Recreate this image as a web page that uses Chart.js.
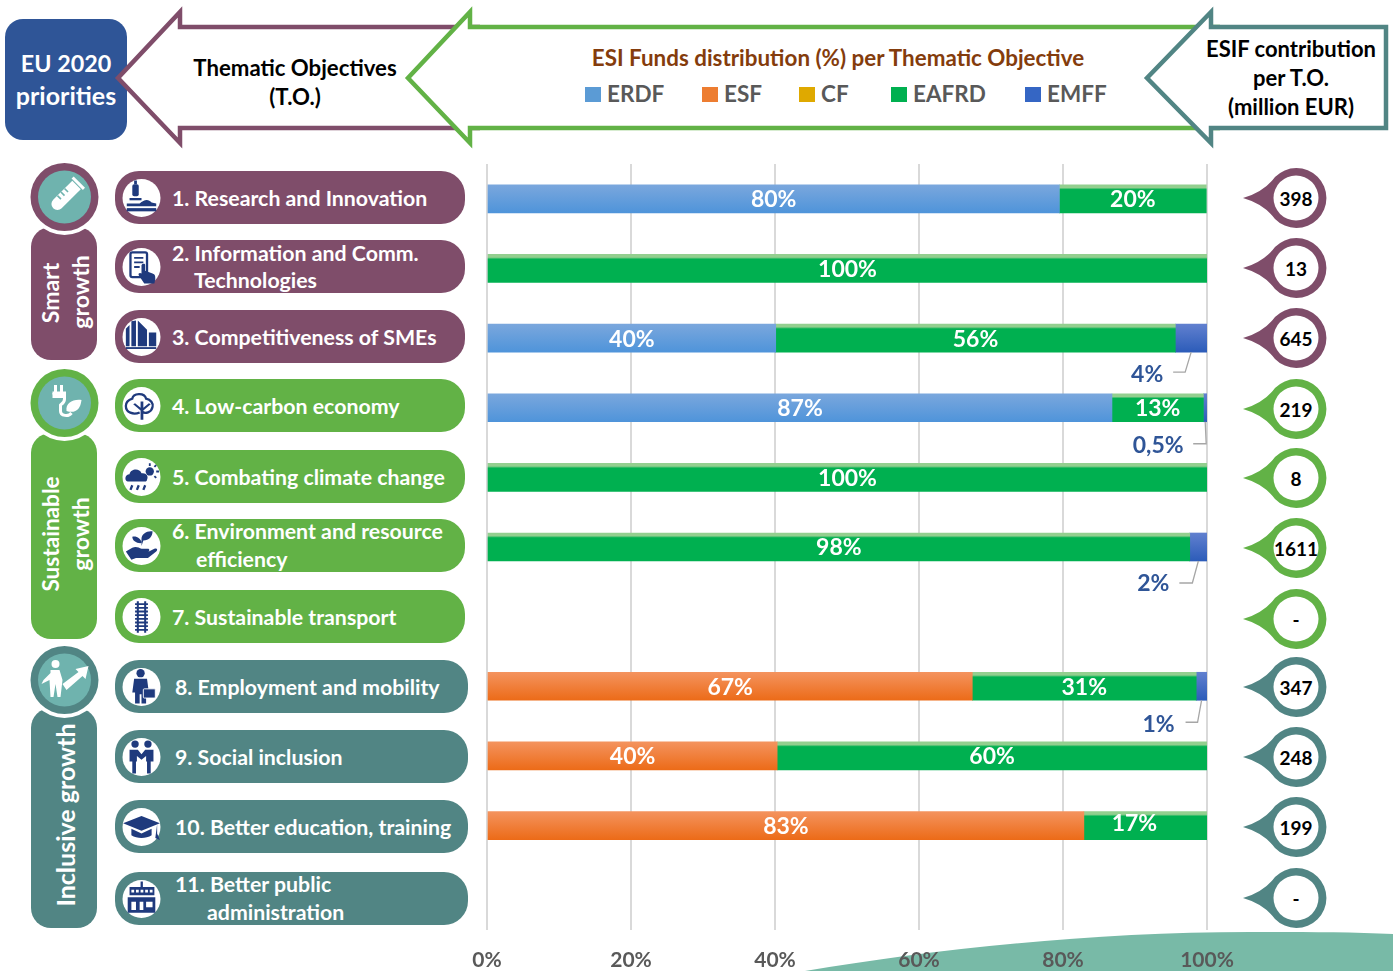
<!DOCTYPE html>
<html>
<head>
<meta charset="utf-8">
<title>ESI Funds distribution per Thematic Objective</title>
<script src="https://cdn.jsdelivr.net/npm/chart.js@4/dist/chart.umd.min.js"></script>
<style>
  html, body { margin: 0; padding: 0; background: #fff; overflow: hidden; }
  #stage { position: relative; width: 1393px; height: 971px; }
  #decor, #fundsChart { position: absolute; left: 0; top: 0; }
</style>
</head>
<body>
<div id="stage">
  <svg id="decor" width="1393" height="971" viewBox="0 0 1393 971" xmlns="http://www.w3.org/2000/svg"></svg>
  <canvas id="fundsChart" width="1393" height="971"></canvas>
</div>
<script>
// data
const categories = ['TO1', 'TO2', 'TO3', 'TO4', 'TO5', 'TO6', 'TO7', 'TO8', 'TO9', 'TO10', 'TO11'];
const erdf  = [79.5, 0, 40.1, 86.8, 0, 0, 0, 0, 0, 0, 0];
const esf   = [0, 0, 0, 0, 0, 0, 0, 67.4, 40.3, 82.9, 0];
const cf    = [0, 0, 0, 0, 0, 0, 0, 0, 0, 0, 0];
const eafrd = [20.4, 100, 55.5, 12.7, 100, 97.6, 0, 31.1, 59.7, 17.1, 0];
const emff  = [0, 0, 4.4, 0.5, 0, 2.4, 0, 1.49, 0, 0, 0];
const contribution = ['398', '13', '645', '219', '8', '1611', '-', '347', '248', '199', '-'];
const xTicks = [0, 20, 40, 60, 80, 100];

const seriesNames = ['ERDF', 'ESF', 'CF', 'EAFRD', 'EMFF'];
const seriesValues = [erdf, esf, cf, eafrd, emff];

const FONT = 'Lato, "Open Sans", sans-serif';
const PURPLE = '#7f4d6a', GREEN = '#62b246', TEAL = '#518584', NAVY = '#2f5597', ICON = '#1f3a7d';

// gradient stops for each fund, top to bottom of the bar
const fills = {
  ERDF:  [[0, '#7aa7dd'], [1, '#4f94da']],
  ESF:   [[0, '#f4935e'], [1, '#ec6b18']],
  CF:    [[0, '#e6b422'], [1, '#d9a300']],
  EAFRD: [[0, '#93cf8f'], [0.1, '#93cf8f'], [0.17, '#00b050'], [1, '#00b050']],
  EMFF:  [[0, '#6180cf'], [1, '#2c5cb9']]
};
const legendSwatch = { ERDF: '#5b9bd5', ESF: '#ed7d31', CF: '#dfa900', EAFRD: '#00b050', EMFF: '#3566c4' };

const BAR_HEIGHT = 28;

// small values are labelled outside the bar, offsets from the bottom centre of the segment
const callouts = {
  2: { text: [-44, 22], elbow: [-6, 20], end: [-18, 20] },
  3: { text: [-47, 24], elbow: [1, 22], end: [-12, 22] },
  5: { text: [-45, 23], elbow: [-6, 22], end: [-19, 22] },
  7: { text: [-43, 24], elbow: [-4, 22], end: [-16, 22] }
};

function pct(v) {
  return v < 1 ? String(v).replace('.', ',') + '%' : Math.round(v) + '%';
}

const barLabels = {
  id: 'barLabels',
  afterDatasetsDraw(chart) {
    const ctx = chart.ctx;
    ctx.save();
    ctx.font = 'bold 23px ' + FONT;
    ctx.textAlign = 'center';
    ctx.textBaseline = 'middle';
    chart.data.datasets.forEach((ds, d) => {
      chart.getDatasetMeta(d).data.forEach((bar, i) => {
        const v = ds.data[i];
        if (!v) return;
        const props = bar.getProps(['x', 'y', 'base']);
        const cx = (props.x + props.base) / 2;
        if (v >= 5) {
          // the 17% label sits off centre in the original
          const moved = i === 9 && d === 3;
          ctx.fillStyle = '#fff';
          ctx.fillText(pct(v), cx + (moved ? -11 : 0), props.y + (moved ? -2 : 1));
        } else if (callouts[i]) {
          const c = callouts[i], bottom = props.y + BAR_HEIGHT / 2;
          ctx.strokeStyle = '#a6a6a6';
          ctx.lineWidth = 1.3;
          ctx.beginPath();
          ctx.moveTo(cx, bottom);
          ctx.lineTo(cx + c.elbow[0], bottom + c.elbow[1]);
          ctx.lineTo(cx + c.end[0], bottom + c.end[1]);
          ctx.stroke();
          ctx.fillStyle = NAVY;
          ctx.fillText(pct(v), cx + c.text[0], bottom + c.text[1]);
        }
      });
    });
    ctx.restore();
  }
};

new Chart(document.getElementById('fundsChart').getContext('2d'), {
  type: 'bar',
  plugins: [barLabels],
  data: {
    labels: categories,
    datasets: seriesNames.map((name, s) => ({
      label: name,
      data: seriesValues[s],
      barThickness: BAR_HEIGHT,
      borderWidth: 0,
      backgroundColor(c) {
        if (c.raw === 0) return 'rgba(0,0,0,0)';
        const chart = c.chart;
        const yScale = chart.scales.y;
        if (!yScale || c.dataIndex === undefined) return legendSwatch[name];
        const mid = yScale.getPixelForValue(c.dataIndex);
        if (!Number.isFinite(mid)) return legendSwatch[name];
        const g = chart.ctx.createLinearGradient(0, mid - BAR_HEIGHT / 2, 0, mid + BAR_HEIGHT / 2);
        fills[name].forEach(st => g.addColorStop(st[0], st[1]));
        return g;
      }
    }))
  },
  options: {
    indexAxis: 'y',
    responsive: false,
    animation: false,
    layout: { padding: { left: 487, right: 186, top: 164, bottom: 0 } },
    plugins: { legend: { display: false }, tooltip: { enabled: false } },
    scales: {
      x: {
        stacked: true,
        min: 0,
        max: 100,
        afterBuildTicks(axis) { axis.ticks = xTicks.map(v => ({ value: v })); },
        afterFit(axis) { axis.height = 41; },
        border: { display: false },
        grid: { color: '#d9d9d9', lineWidth: 2, drawTicks: false },
        ticks: {
          padding: 18,
          maxRotation: 0,
          color: '#595959',
          font: { family: FONT, size: 21, weight: 'bold' },
          callback: v => v + '%'
        }
      },
      y: { stacked: true, display: false, grid: { display: false } }
    }
  }
});

// everything round the plot: ribbons, pills, pins
const pills = [
  { y: 171, c: PURPLE, w: 350, x: 172, lines: [['1. Research and Innovation', 0, 27]] },
  { y: 240, c: PURPLE, w: 350, x: 172, lines: [['2. Information and Comm.', 0, 13], ['Technologies', 22, 40]] },
  { y: 310, c: PURPLE, w: 350, x: 172, lines: [['3. Competitiveness of SMEs', 0, 27]] },
  { y: 379, c: GREEN, w: 350, x: 172, lines: [['4. Low-carbon economy', 0, 27]] },
  { y: 450, c: GREEN, w: 350, x: 172, lines: [['5. Combating climate change', 0, 27]] },
  { y: 519, c: GREEN, w: 350, x: 172, lines: [['6. Environment and resource', 0, 12], ['efficiency', 24, 40]] },
  { y: 590, c: GREEN, w: 350, x: 172, lines: [['7. Sustainable transport', 0, 27]] },
  { y: 660, c: TEAL, w: 353, x: 175, lines: [['8. Employment and mobility', 0, 27]] },
  { y: 730, c: TEAL, w: 353, x: 175, lines: [['9. Social inclusion', 0, 27]] },
  { y: 800, c: TEAL, w: 353, x: 175, lines: [['10. Better education, training', 0, 27]] },
  { y: 872, c: TEAL, w: 353, x: 175, lines: [['11. Better public', 0, 12], ['administration', 32, 40]] }
];
const pinY = [198, 268, 338, 409, 478, 548, 619, 687, 757, 827, 898];
const pinColor = [PURPLE, PURPLE, PURPLE, GREEN, GREEN, GREEN, GREEN, TEAL, TEAL, TEAL, TEAL];

// small hand drawn glyphs, centred on 0,0
const pillIcons = [
  `<rect x="-10" y="-15" width="7" height="13" rx="2"/><rect x="-8" y="-19" width="3" height="4"/><rect x="-13" y="0" width="13" height="2.5"/><path d="M-16 6h14c5-5 10-5 13-1l5 1v3h-32z"/><rect x="-16" y="11" width="32" height="3.5"/>`,
  `<rect x="-12" y="-16" width="18" height="27" rx="2" fill="none" stroke="${ICON}" stroke-width="2.5"/><path d="M-8-10h10M-8-5h10M-8 0h6" stroke="${ICON}" stroke-width="2"/><path d="M0-2c1-2 4-2 4 0v6l8 3c3 1 3 3 3 6l-1 5H3l-6-9c-1-3 2-3 3-2z"/>`,
  `<path d="M-17 10v-19l4-4v23zM-11 10v-27l5-1v28zM-4 10v-28l10 10v18zM8 10v-15h8v15z"/><rect x="-17" y="11" width="33" height="2"/>`,
  `<path d="M-1 15v-10l-8-7 2-1 6 5v-7h3v7l6-5 2 1-8 7v10z"/><path d="M-2 7c-7 3-15 0-15-7 0-5 4-7 7-8 1-6 13-7 15 0 5 1 8 5 7 9-1 6-8 8-12 5" fill="none" stroke="${ICON}" stroke-width="2.5"/>`,
  `<path d="M-15 5c-4-1-3-8 2-8 1-6 11-7 13-1 5-1 8 3 6 7 0 1-1 2-2 2z"/><path d="M-10 9l-2 5M-3 9l-2 5M4 9l-2 5" stroke="${ICON}" stroke-width="2.5"/><circle cx="9" cy="-6" r="4.5"/><path d="M9-15v3M16-13l-2 2M19-6h-3M16 1l-2-2" stroke="${ICON}" stroke-width="2"/>`,
  `<path d="M-17 6l7-4c4-2 7 0 10 1h7c2 0 2 3 0 3h-7 8l6-3c3-1 4 1 2 3l-9 7h-13l-5 2z"/><path d="M0 0v-8c0-5 6-9 12-8 0 6-4 10-10 10M0-4c-1-4-5-7-10-6 0 4 4 7 9 7" />`,
  `<path d="M-4-17v34M4-17v34" stroke="${ICON}" stroke-width="2.2"/><path d="M-7-14h14M-7-10h14M-7-6h14M-7-2h14M-7 2h14M-7 6h14M-7 10h14M-7 14h14" stroke="${ICON}" stroke-width="2"/>`,
  `<circle cx="-1" cy="-15" r="4.5"/><path d="M-8-9h14l2 15h-3v12h-5v-10h-2v10h-5v-12h-3z"/><rect x="2" y="2" width="13" height="10" rx="1" stroke="#fff"/>`,
  `<circle cx="-7" cy="-14" r="4"/><circle cx="7" cy="-14" r="4"/><path d="M-13-8h9l4 5 4-5h9v13h-3v13h-4v-13h-1v-6l-5 4-5-4v6h-1v13h-4v-13h-3z"/>`,
  `<path d="M-20-4L0-12 20-4 0 4z"/><path d="M-11 2v7c6 4 16 4 22 0V2L0 7z"/><path d="M17-3v10l3 7-5-2z"/>`,
  `<rect x="-1" y="-19" width="2.5" height="6"/><path d="M-13-13h27v9h-27zM-15-2h30v17h-30z"/><path d="M-11-10h3v3h-3zM-6-10h3v3h-3zM-1-10h3v3h-3zM4-10h3v3h-3zM9-10h3v3h-3zM-11 3h5v9h-5zM-2 3h4v9h-4zM5 3h7v6h-7z" fill="#fff"/>`
];

const groups = [
  { c: PURPLE, cy: 197, top: 227, bottom: 360 },
  { c: GREEN, cy: 403, top: 433, bottom: 639 },
  { c: TEAL, cy: 680, top: 708, bottom: 928 }
];
const groupLabels = [
  ['Smart', 50, 293, 23], ['growth', 80, 292, 23],
  ['Sustainable', 50, 534, 22.6], ['growth', 80, 534, 23],
  ['Inclusive growth', 65, 815, 25]
];
const groupIcons = [
  `<g transform="rotate(45)" fill="#fff"><rect x="-8" y="-21" width="16" height="3"/><path d="M-6-17h12v27a6 6 0 0 1-12 0z"/><path d="M-6-6h5M-6-1h5M-6 4h5" stroke="#6fb3ae" stroke-width="1.6"/></g>`,
  `<path d="M-9-18v7M-3-18v7" stroke="#fff" stroke-width="3"/><path d="M-12-10h12v6c0 4-3 5-4 6v6c0 5 8 6 11 2" fill="none" stroke="#fff" stroke-width="3"/><path d="M-12-10h12v5h-12z" fill="#fff"/><path d="M2 8c-1-8 6-12 15-11-1 9-6 14-15 11z" fill="#fff"/>`,
  `<circle cx="-9" cy="-16" r="4" fill="#fff"/><path d="M-14-10h9l3 10-2 17h-3l-2-13-2 13h-3l-1-17-8 4 2-4 7-7z" fill="#fff"/><path d="M-2 4L14-8l-3-3 13-3-3 13-3-3L2 10z" fill="#fff"/>`
];

function arrow(tip, barb, right, stroke, open) {
  const pts = `M${right} 27H${barb}V12L${tip} 78 ${barb} 143V128H${right}`;
  return `<path d="${pts}${open ? '' : 'Z'}" fill="#fff" stroke="${stroke}" stroke-width="4.5" stroke-linejoin="miter"/>`;
}

function line(txt, x, y, size, fill, anchor) {
  return `<text x="${x}" y="${y}" font-size="${size}" fill="${fill}" text-anchor="${anchor || 'start'}" font-weight="bold" dominant-baseline="central">${txt}</text>`;
}

let svg = `<g font-family='${FONT}'>`;

// bottom wave behind the axis labels
svg += `<path d="M805 971C930 950 1090 932 1250 932C1300 932 1350 932 1393 934V971Z" fill="#78baa7"/>`;

// header
svg += `<rect x="5" y="19" width="122" height="121" rx="18" fill="${NAVY}"/>`;
svg += line('EU 2020', 66, 63, 23.3, '#fff', 'middle') + line('priorities', 66, 95, 25, '#fff', 'middle');
svg += arrow(118, 180, 480, PURPLE, true);
svg += arrow(408, 470, 1220, GREEN, true);
svg += arrow(1147, 1211, 1386, TEAL, false);
svg += line('Thematic Objectives', 295, 67, 22.2, '#000', 'middle') + line('(T.O.)', 295, 96, 22.2, '#000', 'middle');
svg += line('ESIF contribution', 1291, 48, 22, '#000', 'middle') + line('per T.O.', 1291, 77, 22, '#000', 'middle') + line('(million EUR)', 1291, 106, 22, '#000', 'middle');
svg += line('ESI Funds distribution (%) per Thematic Objective', 838, 57, 22.4, '#843c0c', 'middle');

// legend
const legendX = [585, 702, 799, 891, 1025];
seriesNames.forEach((name, s) => {
  svg += `<rect x="${legendX[s]}" y="87" width="16" height="15" fill="${legendSwatch[name]}"/>`;
  svg += line(name, legendX[s] + 22, 93, 22.5, '#595959');
});

// priority groups
groups.forEach((g, i) => {
  svg += `<rect x="31" y="${g.top}" width="66" height="${g.bottom - g.top}" rx="20" fill="${g.c}"/>`;
  svg += `<circle cx="64.5" cy="${g.cy}" r="38" fill="#fff"/><circle cx="64.5" cy="${g.cy}" r="34" fill="${g.c}"/><circle cx="64.5" cy="${g.cy}" r="26.5" fill="#6fb3ae"/>`;
  svg += `<g transform="translate(64.5 ${g.cy})">${groupIcons[i]}</g>`;
});
groupLabels.forEach(l => {
  svg += `<g transform="translate(${l[1]} ${l[2]}) rotate(-90)">${line(l[0], 0, 0, l[3], '#fff', 'middle')}</g>`;
});

// thematic objective pills
pills.forEach((p, i) => {
  svg += `<rect x="115" y="${p.y}" width="${p.w}" height="53" rx="24" fill="${p.c}"/>`;
  svg += `<circle cx="141.5" cy="${p.y + 27}" r="19" fill="#fff"/>`;
  svg += `<g transform="translate(141.5 ${p.y + 27}) scale(0.92)" fill="${ICON}">${pillIcons[i]}</g>`;
  p.lines.forEach(l => { svg += line(l[0], p.x + l[1], p.y + l[2], 21.3, '#fff'); });
});

// contribution pins
contribution.forEach((v, i) => {
  const cx = 1296, cy = pinY[i], c = pinColor[i];
  svg += `<path d="M${cx - 53} ${cy}Q${cx - 32} ${cy - 6} ${cx - 21} ${cy - 21}A30 30 0 1 1 ${cx - 21} ${cy + 21}Q${cx - 32} ${cy + 6} ${cx - 53} ${cy}Z" fill="${c}"/>`;
  svg += `<circle cx="${cx}" cy="${cy}" r="22.5" fill="#fff"/>`;
  svg += line(v, cx, cy, 19, '#000', 'middle');
});

svg += '</g>';
document.getElementById('decor').innerHTML = svg;
</script>
</body>
</html>
